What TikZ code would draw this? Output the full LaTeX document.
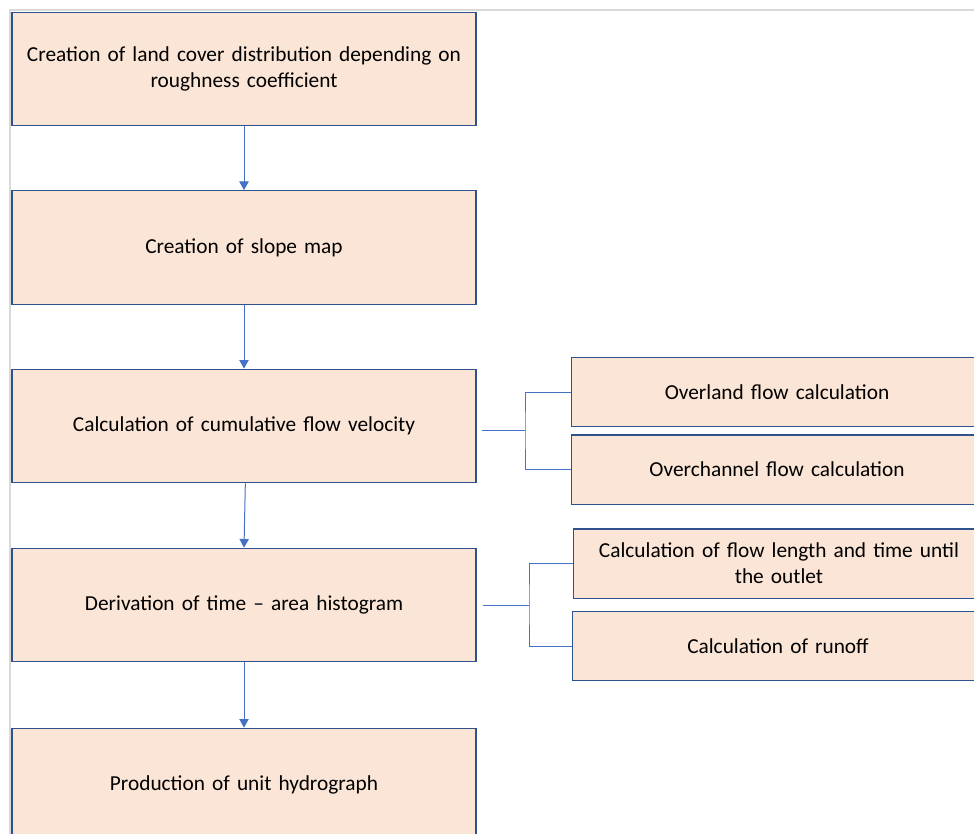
\documentclass[tikz,border=0pt]{standalone}
\usepackage{fontspec}
\setmainfont{Carlito}
\usetikzlibrary{arrows.meta}

\begin{document}
\begin{tikzpicture}[x=0.75pt,y=-0.75pt,
stepbox/.style={draw=boxline, fill=boxfill, line width=1pt, align=center, inner sep=4pt, font=\fontsize{16}{19.5}\selectfont},
mainbox/.style={stepbox, text width=340pt, minimum height=85pt},
subbox/.style={stepbox, text width=284pt, minimum width=308pt, minimum height=52pt},
conn/.style={draw=connline, line width=0.75pt},
flow/.style={conn, -{Triangle[width=7pt,length=6.5pt]}}]
\definecolor{boxline}{HTML}{2F528F}
\definecolor{boxfill}{HTML}{FBE5D6}
\definecolor{connline}{HTML}{4472C4}
\definecolor{frameline}{HTML}{D9D9D9}
\clip (0,0) rectangle (974,834);
\draw[frameline, line width=1.5pt] (974,10) -- (10,10) -- (10,834);
\node[mainbox](landcover) at (244,69) {Creation of land cover distribution depending on\\ roughness coefficient};
\node[mainbox](slope) at (244,247.5) {Creation of slope map};
\node[mainbox](velocity) at (244,426) {Calculation of cumulative flow velocity};
\node[mainbox](histogram) at (244,605) {Derivation of time -- area histogram};
\node[mainbox](hydrograph) at (244,785) {Production of unit hydrograph};
\node[subbox](overland) at (777,392) {Overland flow calculation};
\node[subbox](overchannel) at (777,469.5) {Overchannel flow calculation};
\node[subbox](flowlength) at (779,563.5) {Calculation of flow length and time until\\ the outlet};
\node[subbox](runoff) at (778,646) {Calculation of runoff};
\draw[flow] (landcover) -- (slope);
\draw[flow] (slope) -- (velocity);
\draw[flow] ([xshift=1pt]velocity.south) -- (histogram.north);
\draw[flow] (histogram) -- (hydrograph);
\coordinate (velsplit) at (525,430);
\coordinate (histsplit) at (529,605);
\draw[conn] ([xshift=4pt]velocity.east |- velsplit) -- (velsplit);
\draw[conn] (overland.west) -| (velsplit) |- (overchannel.west);
\draw[conn] ([xshift=5pt]histogram.east) -- (histsplit);
\draw[conn] (flowlength.west) -| (histsplit) |- (runoff.west);
\end{tikzpicture}
\end{document}
